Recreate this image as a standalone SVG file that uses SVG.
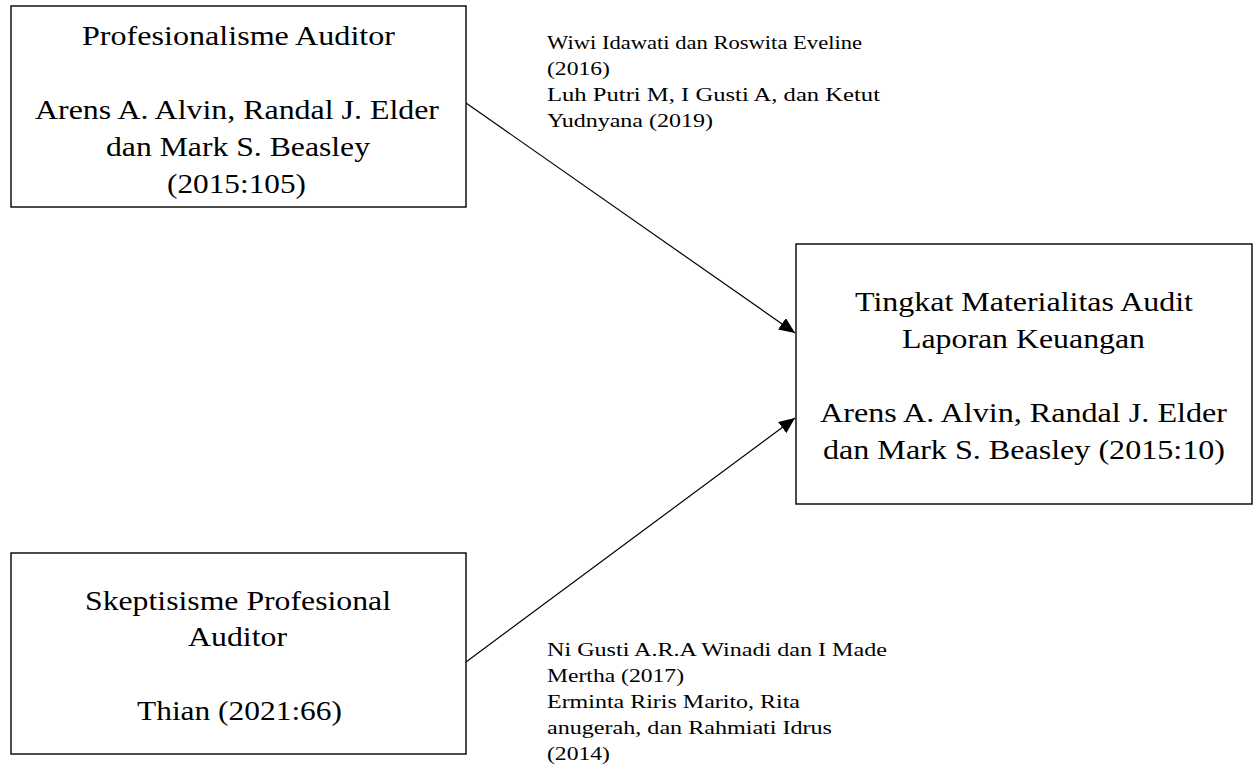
<svg xmlns="http://www.w3.org/2000/svg" width="1256" height="772" viewBox="0 0 1256 772" font-family="Liberation Serif, serif">
<style>
.box{fill:#fff;stroke:#000;stroke-width:1.4}
.t{font-size:28px;fill:#000;text-anchor:middle}
.l{font-size:18px;fill:#000}
.c{stroke:#000;stroke-width:1.2;fill:none}
</style>
<defs>
<marker id="ah" markerUnits="userSpaceOnUse" markerWidth="18" markerHeight="14" refX="16" refY="7" orient="auto">
<path d="M0,0 L16,7 L0,14 z" fill="#000"/>
</marker>
</defs>
<rect width="1256" height="772" fill="#fff"/>
<g id="connectors">
<line class="c" x1="466" y1="103" x2="795" y2="333" marker-end="url(#ah)"/>
<line class="c" x1="466" y1="662" x2="795" y2="418" marker-end="url(#ah)"/>
</g>
<g id="node-profesionalisme" font-family="Liberation Serif, serif">
<rect class="box" x="11" y="6" width="455" height="201"/>
<text class="t" x="238.5" y="45" textLength="313" lengthAdjust="spacingAndGlyphs">Profesionalisme Auditor</text>
<text class="t" x="237" y="119" textLength="404" lengthAdjust="spacingAndGlyphs">Arens A. Alvin, Randal J. Elder</text>
<text class="t" x="238" y="156" textLength="264" lengthAdjust="spacingAndGlyphs">dan Mark S. Beasley</text>
<text class="t" x="236.5" y="193" textLength="139" lengthAdjust="spacingAndGlyphs">(2015:105)</text>
</g>
<g id="node-tingkat" font-family="Liberation Serif, serif">
<rect class="box" x="796" y="244" width="456" height="260"/>
<text class="t" x="1024" y="311" textLength="338" lengthAdjust="spacingAndGlyphs">Tingkat Materialitas Audit</text>
<text class="t" x="1023.5" y="348" textLength="243" lengthAdjust="spacingAndGlyphs">Laporan Keuangan</text>
<text class="t" x="1023.5" y="422" textLength="407" lengthAdjust="spacingAndGlyphs">Arens A. Alvin, Randal J. Elder</text>
<text class="t" x="1024" y="459" textLength="402" lengthAdjust="spacingAndGlyphs">dan Mark S. Beasley (2015:10)</text>
</g>
<g id="node-skeptisisme" font-family="Liberation Serif, serif">
<rect class="box" x="11" y="553" width="455" height="201"/>
<text class="t" x="238" y="610" textLength="306" lengthAdjust="spacingAndGlyphs">Skeptisisme Profesional</text>
<text class="t" x="237.5" y="646" textLength="99" lengthAdjust="spacingAndGlyphs">Auditor</text>
<text class="t" x="239.5" y="720" textLength="205" lengthAdjust="spacingAndGlyphs">Thian (2021:66)</text>
</g>
<g id="label-top" font-family="Liberation Serif, serif">
<text class="l" x="547" y="49" textLength="315" lengthAdjust="spacingAndGlyphs">Wiwi Idawati dan Roswita Eveline</text>
<text class="l" x="547" y="75" textLength="63" lengthAdjust="spacingAndGlyphs">(2016)</text>
<text class="l" x="547" y="101" textLength="333" lengthAdjust="spacingAndGlyphs">Luh Putri M, I Gusti A, dan Ketut</text>
<text class="l" x="547" y="127" textLength="166" lengthAdjust="spacingAndGlyphs">Yudnyana (2019)</text>
</g>
<g id="label-bottom" font-family="Liberation Serif, serif">
<text class="l" x="547" y="656" textLength="340" lengthAdjust="spacingAndGlyphs">Ni Gusti A.R.A Winadi dan I Made</text>
<text class="l" x="547" y="682" textLength="137" lengthAdjust="spacingAndGlyphs">Mertha (2017)</text>
<text class="l" x="547" y="708" textLength="253" lengthAdjust="spacingAndGlyphs">Erminta Riris Marito, Rita</text>
<text class="l" x="547" y="734" textLength="285" lengthAdjust="spacingAndGlyphs">anugerah, dan Rahmiati Idrus</text>
<text class="l" x="547" y="760" textLength="63" lengthAdjust="spacingAndGlyphs">(2014)</text>
</g>
</svg>
